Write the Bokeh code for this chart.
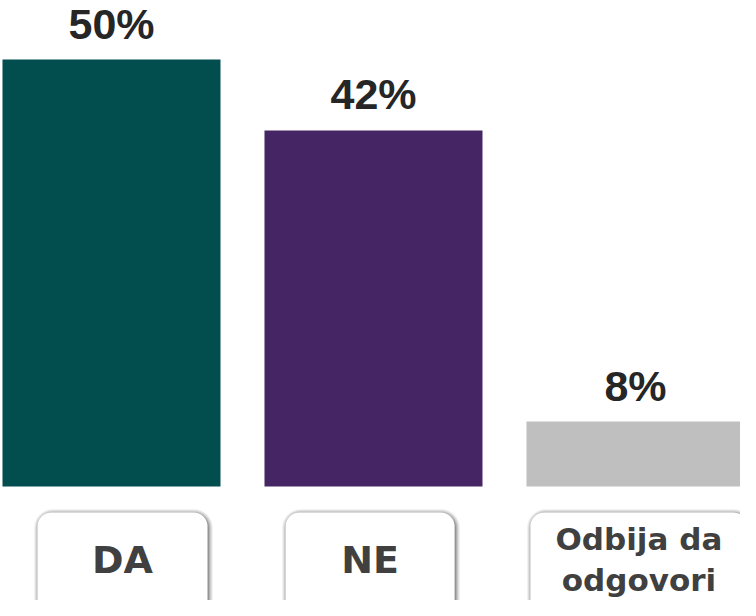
from bokeh.plotting import figure
from bokeh.models import ColumnDataSource, BoxAnnotation, Range1d
from bokeh.core.properties import value
from bokeh.embed import file_html
from bokeh.resources import INLINE

# ---- data ----
categories = ["DA", "NE", "Odbija da\nodgovori"]
values = [50, 41.7, 7.6]
value_labels = ["50%", "42%", "8%"]
colors = ["#024D4E", "#462565", "#BFBFBF"]

# ---- layout constants (pixels -> data) ----
W, H = 740, 600
PX_X = 262.0            # px per category step
PX_Y = 8.54             # px per percentage point
BASE_PX = 114           # baseline height from figure bottom
x_start = -0.416 - 2 / PX_X
y_start = -BASE_PX / PX_Y

p = figure(width=W, height=H, output_backend="svg", toolbar_location=None,
           x_range=Range1d(x_start, x_start + W / PX_X),
           y_range=Range1d(y_start, y_start + H / PX_Y),
           min_border=0, background_fill_color="white",
           border_fill_color="white")
p.axis.visible = False
p.grid.visible = False
p.outline_line_color = None

xs = list(range(len(categories)))
src = ColumnDataSource(dict(x=xs, top=values, color=colors, lab=value_labels,
                            cat=categories))

p.vbar(x="x", top="top", bottom=0, width=218 / PX_X, color="color",
       line_color=None, source=src)

p.text(x="x", y="top", text="lab", source=src, text_align="center",
       text_baseline="alphabetic", y_offset=-36,
       text_font=value("Liberation Sans"), text_font_style="bold",
       text_font_size="43px", text_color="#262626")

# category label boxes
box_offsets = [0.042, -0.013, 0.013]
box_widths = [170, 169, 217]
box_top = -26 / PX_Y
box_bottom = y_start - 5
for i, xc in enumerate(xs):
    cx = xc + box_offsets[i]
    hw = box_widths[i] / 2 / PX_X
    # soft shadow layers
    for k, a in [(5, 0.05), (4, 0.07), (3, 0.09), (2, 0.12), (1, 0.16)]:
        p.add_layout(BoxAnnotation(
            left=cx - hw - (k - 1.5) / PX_X, right=cx + hw + (k + 0.5) / PX_X,
            top=box_top + (k - 1.5) / PX_Y, bottom=box_bottom,
            fill_color="#000000", fill_alpha=a, line_color=None,
            border_radius=14 + k, level="underlay"))
    p.add_layout(BoxAnnotation(
        left=cx - hw, right=cx + hw, top=box_top, bottom=box_bottom,
        fill_color="white", fill_alpha=1.0, line_color=None,
        border_radius=14, level="underlay"))

label_x = [x + o for x, o in zip(xs, box_offsets)]
label_sizes = ["38px", "38px", "31px"]
src2 = ColumnDataSource(dict(x=label_x, cat=categories, size=label_sizes))
p.text(x="x", y=(41 - BASE_PX) / PX_Y, text="cat", source=src2,
       text_align="center", text_baseline="middle",
       text_font=value("DejaVu Sans"), text_font_style="bold",
       text_font_size="size", text_color="#404040", text_line_height=1.15)

open("out.html", "w").write(file_html(p, INLINE))
